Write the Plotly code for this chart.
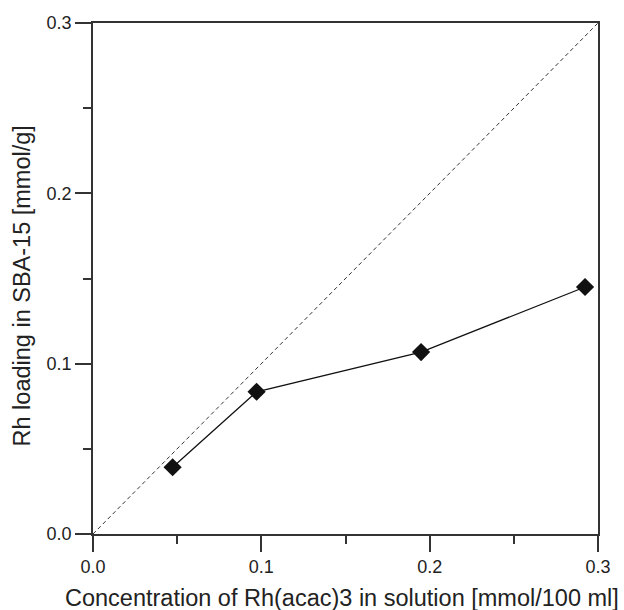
import plotly.graph_objects as go

conc = [0.0473, 0.0972, 0.1949, 0.2923]
loading = [0.0392, 0.0835, 0.1068, 0.145]
diag_x = [0.0, 0.3]
diag_y = [0.0, 0.3]
tick_vals = [0.0, 0.1, 0.2, 0.3]
tick_text = ["0.0", "0.1", "0.2", "0.3"]
minor_vals = [0.05, 0.15, 0.25]
x_title = "Concentration of Rh(acac)3 in solution [mmol/100 ml]"
y_title = "Rh loading in SBA-15 [mmol/g]"

fig = go.Figure()
fig.add_trace(go.Scatter(x=diag_x, y=diag_y, mode="lines",
                         line=dict(color="#333333", width=1, dash="4px,3px"),
                         showlegend=False, hoverinfo="skip"))
fig.add_trace(go.Scatter(x=conc, y=loading, mode="lines+markers",
                         line=dict(color="#111111", width=1.3),
                         marker=dict(symbol="diamond", size=14, color="#111111"),
                         showlegend=False))

FONT = "Liberation Sans, Arial, sans-serif"
axis_common = dict(
    showline=True, linecolor="#333333", linewidth=1.5, mirror=True,
    ticks="outside", ticklen=16, tickwidth=1.5, tickcolor="#333333",
    showgrid=False, zeroline=False,
    tickvals=tick_vals, ticktext=tick_text,
    tickfont=dict(family=FONT, size=18, color="#222222"),
    minor=dict(ticks="outside", ticklen=8, tickwidth=1.5, tickcolor="#333333",
               tickvals=minor_vals, showgrid=False),
)

fig.update_layout(
    width=624, height=610,
    margin=dict(l=93, r=26, t=23, b=76),
    paper_bgcolor="white", plot_bgcolor="white",
    font=dict(family=FONT, color="#222222"),
    xaxis=dict(range=[0, 0.3], **axis_common),
    yaxis=dict(range=[0, 0.3], **axis_common),
    annotations=[
        dict(text=x_title, xref="paper", yref="paper", x=0.494, y=-0.125,
             xanchor="center", yanchor="middle", showarrow=False,
             font=dict(family=FONT, size=23.5, color="#222222")),
        dict(text=y_title, xref="paper", yref="paper", x=-0.14, y=0.485,
             xanchor="center", yanchor="middle", showarrow=False, textangle=-90,
             font=dict(family=FONT, size=23.5, color="#222222")),
    ],
)

fig.write_html("out.html")
